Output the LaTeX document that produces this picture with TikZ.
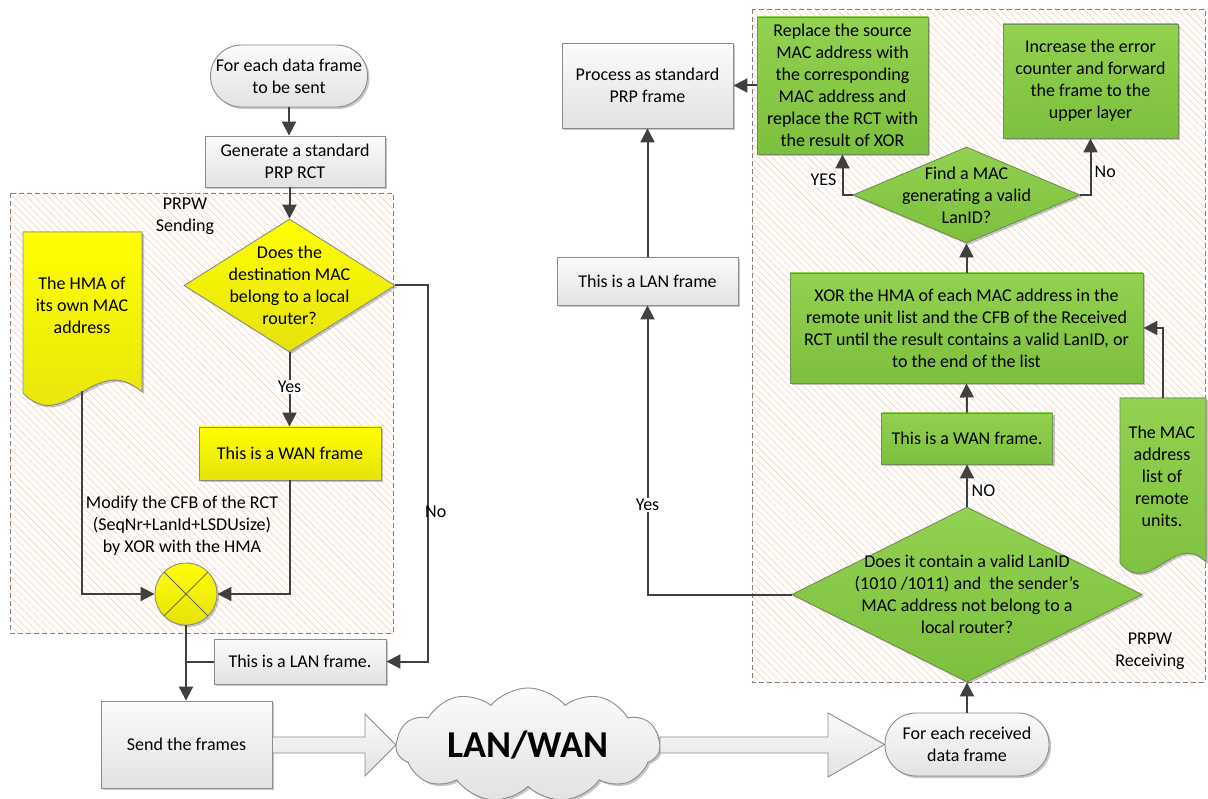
\documentclass[tikz,border=0pt]{standalone}
\usepackage{fontspec}
\setmainfont{Carlito}
\usetikzlibrary{arrows.meta,shapes.geometric,shapes.symbols,patterns.meta,shadows,calc}
\definecolor{lnk}{HTML}{404040}
\definecolor{bgray}{HTML}{8C8C8C}
\definecolor{gtop}{HTML}{FBFBFB}
\definecolor{gbot}{HTML}{E2E2E2}
\definecolor{ytop}{HTML}{FFFF00}
\definecolor{ybot}{HTML}{E6E20E}
\definecolor{grtop}{HTML}{93D150}
\definecolor{grbot}{HTML}{7DBF3E}
\definecolor{grbord}{HTML}{6E8F55}
\definecolor{hatch}{HTML}{F8D2B8}
\begin{document}
\begin{tikzpicture}[x=1pt,y=-1pt,
  every node/.style={font=\fontsize{18}{22}\selectfont, align=center, inner sep=0pt},
  shad/.style={drop shadow={shadow xshift=2pt,shadow yshift=-2pt,opacity=0.22,fill=black}},
  graybox/.style={rectangle, draw=bgray, line width=0.9pt, top color=gtop, bottom color=gbot, shad},
  ybox/.style={rectangle, draw=bgray, line width=0.9pt, top color=ytop, bottom color=ybot, shad},
  gbox/.style={rectangle, draw=grbord, line width=0.9pt, top color=grtop, bottom color=grbot, shad},
  ydiam/.style={diamond, draw=bgray, line width=0.9pt, top color=ytop, bottom color=ybot, shad},
  gdiam/.style={diamond, draw=grbord, line width=0.9pt, top color=grtop, bottom color=grbot, shad},
  conn/.style={draw=lnk, line width=2pt},
  arr/.style={conn, -{Triangle[length=14pt,width=14pt]}},
  lbl/.style={fill=white, inner sep=1.5pt},
  region/.style={draw=gray, line width=0.9pt, dash pattern=on 5pt off 3pt},
  hatchfill/.style={pattern={Lines[angle=-45,distance=5pt,line width=0.6pt]}, pattern color=hatch},
  bigarrow/.style={draw=bgray, line width=0.9pt, top color=gtop, bottom color=gbot}
]
\useasboundingbox (0,0) rectangle (1208,799);
\fill[white] (0,0) rectangle (1208,799);

% ---------- regions ----------
\fill[white] (10,193) rectangle (393,633);
\fill[hatchfill] (10,193) rectangle (393,633);
\draw[region] (10,193) rectangle (393,633);
\fill[white] (752,9) rectangle (1205,682);
\fill[hatchfill] (752,9) rectangle (1205,682);
\draw[region] (752,9) rectangle (1205,682);

% ---------- left (sending) ----------
\node[graybox, rounded corners=31pt, minimum width=157pt, minimum height=62pt] (start) at (289,76) {For each data frame\\to be sent};
\node[graybox, minimum width=180pt, minimum height=51pt] (gen) at (295,161.5) {Generate a standard\\PRP RCT};
\node[ydiam, minimum width=211pt, minimum height=133pt] (dia1) at (289.5,285.5) {};
\node at (dia1.center) {Does the\\destination MAC\\belong to a local\\router?};
\node[ybox, minimum width=182pt, minimum height=53pt] (wan1) at (290,453.5) {This is a WAN frame};

% document shape 1
\filldraw[draw=bgray, line width=0.9pt, top color=ytop, bottom color=ybot, shad]
  (23,232) -- (142,232) -- (142,392) .. controls (95,350) and (65,436) .. (23,393) -- cycle;
\node (doc1) at (82,305) {The HMA of\\its own MAC\\address};
\coordinate (doc1b) at (82,391);

\node[circle, draw=bgray, line width=0.9pt, top color=ytop, bottom color=ybot, minimum size=62pt, shad] (xor) at (186,594) {};
\draw[lnk!80, line width=0.9pt] ($(xor.center)+(-21.9,-21.9)$) -- ($(xor.center)+(21.9,21.9)$);
\draw[lnk!80, line width=0.9pt] ($(xor.center)+(-21.9,21.9)$) -- ($(xor.center)+(21.9,-21.9)$);

\node[graybox, minimum width=172pt, minimum height=45pt] (lan1) at (300,661.5) {This is a LAN frame.};
\node[graybox, minimum width=171pt, minimum height=87pt] (send) at (186.5,744.5) {Send the frames};

% big hollow arrows
\draw[bigarrow] (send.east |- 0,737) -- (365,737) -- (365,714) -- (396,745) -- (365,776) -- (365,753) -- (send.east |- 0,753) -- cycle;
\node[cloud, cloud puffs=11, cloud puff arc=100, aspect=2.6, draw=bgray, line width=0.9pt, top color=gtop, bottom color=gbot, minimum width=264pt, minimum height=100pt, shad, font=\fontsize{38}{40}\selectfont\bfseries] (cloud) at (528,745) {LAN/WAN};
\node[graybox, rounded corners=31pt, minimum width=164pt, minimum height=63pt] (recv) at (967,744.5) {For each received\\data frame};
\draw[bigarrow] (660,737) -- (828,737) -- (828,713) -- (recv.west) -- (828,777) -- (828,753) -- (660,753) -- cycle;

% ---------- right (receiving) ----------
\node[gdiam, minimum width=350pt, minimum height=175pt] (dia2) at (967,594.5) {};
\node at (dia2.center) {Does it contain a valid LanID\\(1010 /1011) and\ \ the sender’s\\MAC address not belong to a\\local router?};
\node[gbox, minimum width=171pt, minimum height=51pt] (wan2) at (967,438.5) {This is a WAN frame.};
\node[gbox, minimum width=353pt, minimum height=110pt] (xorbox) at (966.5,328) {XOR the HMA of each MAC address in the\\remote unit list and the CFB of the Received\\RCT until the result contains a valid LanID, or\\to the end of the list};

% document shape 2
\filldraw[draw=grbord, line width=0.9pt, top color=grtop, bottom color=grbot, shad]
  (1120,398) -- (1206,398) -- (1206,562) .. controls (1175,530) and (1150,598) .. (1120,563) -- cycle;
\node (doc2) at (1162,476) {The MAC\\address\\list of\\remote\\units.};
\coordinate (doc2t) at (1163,398);

\node[gdiam, minimum width=227pt, minimum height=96pt] (dia3) at (966.5,195) {};
\node at (dia3.center) {Find a MAC\\generating a valid\\LanID?};
\node[gbox, minimum width=171pt, minimum height=137pt] (rep) at (842.5,85.5) {Replace the source\\MAC address with\\the corresponding\\MAC address and\\replace the RCT with\\the result of XOR};
\node[gbox, minimum width=175pt, minimum height=114pt] (inc) at (1090.5,81) {Increase the error\\counter and forward\\the frame to the\\upper layer};

\node[graybox, minimum width=171pt, minimum height=85pt] (proc) at (647.5,85.5) {Process as standard\\PRP frame};
\node[graybox, minimum width=181pt, minimum height=48pt] (lan2) at (647.5,281) {This is a LAN frame};

% ---------- connectors ----------
\draw[arr] (start.south) -- (start.south |- gen.north);
\draw[arr] (dia1.north |- gen.south) -- (dia1.north);
\draw[arr] (dia1.south) -- (dia1.south |- wan1.north);
\draw[arr] (doc1b) |- (xor.west);
\draw[arr] (wan1.south) |- (xor.east);
\draw[arr] (xor.south) -- (xor.south |- send.north);
\draw[conn] (lan1.west) -- (lan1.west -| xor.south);
\draw[arr] (dia1.east) -- ++(32.5,0) |- (lan1.east);

\draw[arr] (recv.north) -- (dia2.south);
\draw[arr] (dia2.north) -- (wan2.south);
\draw[arr] (wan2.north) -- (xorbox.south);
\draw[arr] (xorbox.north) -- (dia3.south);
\draw[arr] (doc2t) |- (xorbox.east);
\draw[arr] (dia3.west) -| (rep.south);
\draw[arr] (dia3.east) -| (inc.south);
\draw[arr] (rep.west) -- (rep.west -| proc.east);
\draw[arr] (dia2.west) -| (lan2.south);
\draw[arr] (lan2.north) -- (proc.south);

% ---------- labels ----------
\node (sendlbl) at (185,216) {PRPW\\Sending};
\node (modlbl) at (182,526) {Modify the CFB of the RCT\\(SeqNr+LanId+LSDUsize)\\by XOR with the HMA};
\node[lbl] (yes1) at (289.5,387) {Yes};
\node[anchor=west] (no1) at (425,512) {No};
\node[lbl, anchor=west] (no2) at (970,491) {NO};
\node[lbl, anchor=east] (yes3) at (838,180) {YES};
\node[lbl, anchor=west] (no3) at (1093,172) {No};
\node[lbl] (yes2) at (647.5,505) {Yes};
\node (recvlbl) at (1150,651) {PRPW\\Receiving};
\end{tikzpicture}
\end{document}
